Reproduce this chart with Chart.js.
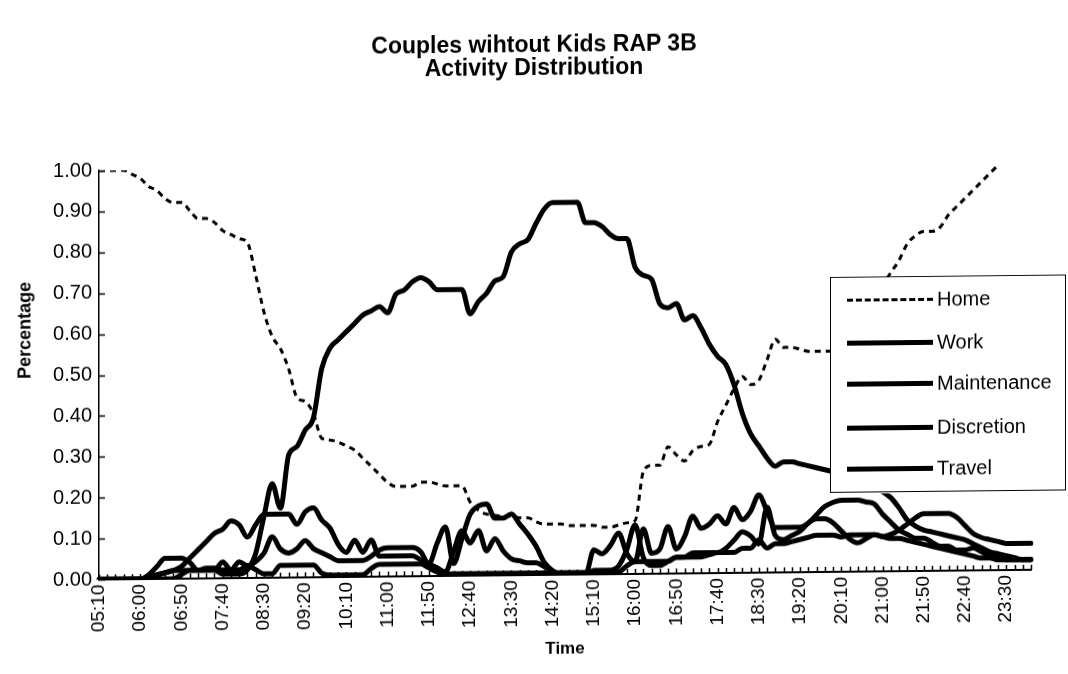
<!DOCTYPE html>
<html>
<head>
<meta charset="utf-8">
<script src="https://cdn.jsdelivr.net/npm/chart.js@4.4.1/dist/chart.umd.min.js"></script>
<style>
  html, body { margin: 0; padding: 0; background: #fff; overflow: hidden; }
  /* the scanned original is slightly skewed, right side higher */
  #wrap {
    position: relative; width: 1068px; height: 674px;
    font-family: "Liberation Sans", Arial, sans-serif; color: #000;
    transform: skewY(-0.6deg); transform-origin: 534px 337px;
  }
  #title {
    position: absolute; left: 0; top: 33px; width: 1068px; text-align: center;
    font-size: 23px; font-weight: bold; line-height: 23px;
  }
  #ytitle {
    position: absolute; left: 25px; top: 325px; font-size: 18px; font-weight: bold;
    transform: translate(-50%, -50%) rotate(-90deg); white-space: nowrap;
  }
  #legend {
    position: absolute; left: 830px; top: 280px; width: 236px; height: 216px;
    background: #fff; border: 1.5px solid #000; box-sizing: border-box;
  }
  .item { position: absolute; left: 16px; height: 24px; display: flex; align-items: center; font-size: 20px; }
  .sample { width: 86px; margin-right: 4px; border-top: 5px solid #000; }
  .sample.dash { border-top: 3px dashed #000; }
</style>
</head>
<body>
<div id="wrap">
  <canvas id="chart" width="1068" height="674"></canvas>
  <div id="title">Couples wihtout Kids RAP 3B<br>Activity Distribution</div>
  <div id="ytitle">Percentage</div>
  <div id="legend"></div>
</div>
<script>
// 10-minute slots from 05:10 to 24:00
const times = [
  '05:10','05:20','05:30','05:40','05:50','06:00','06:10','06:20','06:30','06:40',
  '06:50','07:00','07:10','07:20','07:30','07:40','07:50','08:00','08:10','08:20',
  '08:30','08:40','08:50','09:00','09:10','09:20','09:30','09:40','09:50','10:00',
  '10:10','10:20','10:30','10:40','10:50','11:00','11:10','11:20','11:30','11:40',
  '11:50','12:00','12:10','12:20','12:30','12:40','12:50','13:00','13:10','13:20',
  '13:30','13:40','13:50','14:00','14:10','14:20','14:30','14:40','14:50','15:00',
  '15:10','15:20','15:30','15:40','15:50','16:00','16:10','16:20','16:30','16:40',
  '16:50','17:00','17:10','17:20','17:30','17:40','17:50','18:00','18:10','18:20',
  '18:30','18:40','18:50','19:00','19:10','19:20','19:30','19:40','19:50','20:00',
  '20:10','20:20','20:30','20:40','20:50','21:00','21:10','21:20','21:30','21:40',
  '21:50','22:00','22:10','22:20','22:30','22:40','22:50','23:00','23:10','23:20',
  '23:30','23:40','23:50','24:00'
];

const home = [
  1.00,1.00,1.00,1.00,0.99,0.98,0.96,0.95,0.93,0.92,
  0.92,0.90,0.88,0.88,0.87,0.85,0.84,0.83,0.82,0.74,
  0.65,0.59,0.56,0.51,0.44,0.43,0.40,0.34,0.335,0.33,
  0.32,0.31,0.29,0.27,0.25,0.23,0.22,0.22,0.22,0.23,
  0.23,0.225,0.22,0.22,0.22,0.18,0.16,0.15,0.147,0.145,
  0.145,0.14,0.14,0.13,0.124,0.124,0.124,0.12,0.12,0.12,
  0.12,0.115,0.115,0.12,0.125,0.13,0.25,0.265,0.265,0.31,
  0.29,0.275,0.30,0.31,0.315,0.37,0.41,0.45,0.48,0.46,
  0.47,0.52,0.57,0.55,0.55,0.545,0.54,0.54,0.54,0.54,
  0.55,0.57,0.60,0.63,0.67,0.70,0.73,0.76,0.80,0.82,
  0.83,0.83,0.84,0.87,0.89,0.91,0.93,0.95,0.97,0.99,
  null,null,null,null
];

const work = [
  0,0,0,0,0,0,0,0,0,0,
  0.01,0.02,0.02,0.02,0.02,0.01,0.01,0.01,0.02,0.06,
  0.15,0.23,0.17,0.30,0.32,0.36,0.39,0.51,0.56,0.58,
  0.60,0.62,0.64,0.65,0.66,0.645,0.69,0.70,0.72,0.73,
  0.72,0.70,0.70,0.70,0.70,0.64,0.67,0.69,0.72,0.73,
  0.79,0.81,0.82,0.86,0.895,0.91,0.91,0.91,0.91,0.86,
  0.86,0.85,0.83,0.82,0.82,0.75,0.73,0.72,0.66,0.65,
  0.66,0.62,0.63,0.60,0.56,0.53,0.51,0.46,0.39,0.34,
  0.31,0.28,0.26,0.27,0.27,0.265,0.26,0.255,0.25,0.245,
  0.24,0.235,0.23,0.22,0.21,0.195,0.18,0.155,0.125,0.11,
  0.10,0.095,0.09,0.085,0.08,0.075,0.065,0.055,0.045,0.04,
  0.035,0.03,0.025,0.025
];

const maintenance = [
  0,0,0,0,0,0,0.005,0.01,0.015,0.02,
  0.03,0.05,0.07,0.09,0.11,0.12,0.14,0.13,0.10,0.13,
  0.155,0.155,0.155,0.155,0.13,0.16,0.17,0.14,0.12,0.08,
  0.06,0.09,0.06,0.09,0.05,0.05,0.05,0.05,0.05,0.04,
  0.03,0.02,0.01,0.06,0.11,0.08,0.11,0.06,0.09,0.06,
  0.04,0.035,0.03,0.03,0.02,0.01,0,0,0,0,
  0.01,0.01,0.01,0.02,0.06,0.12,0.04,0.02,0.02,0.03,
  0.04,0.04,0.05,0.05,0.05,0.05,0.06,0.08,0.10,0.09,
  0.07,0.16,0.09,0.08,0.09,0.10,0.12,0.13,0.13,0.12,
  0.10,0.08,0.07,0.08,0.09,0.085,0.09,0.10,0.115,0.13,
  0.14,0.14,0.14,0.14,0.13,0.11,0.09,0.08,0.075,0.07,
  0.065,0.065,0.065,0.065
];

const discretion = [
  0,0,0,0,0,0,0.01,0.03,0.05,0.05,
  0.05,0.04,0.02,0.02,0.02,0.04,0.02,0.04,0.03,0.04,
  0.06,0.10,0.07,0.06,0.07,0.09,0.07,0.06,0.05,0.04,
  0.04,0.04,0.04,0.05,0.065,0.07,0.07,0.07,0.07,0.06,
  0.03,0.08,0.12,0.03,0.09,0.15,0.17,0.175,0.14,0.14,
  0.15,0.125,0.10,0.07,0.03,0.01,0,0,0,0,
  0.06,0.05,0.07,0.10,0.05,0.03,0.11,0.05,0.06,0.115,
  0.06,0.09,0.14,0.11,0.12,0.14,0.12,0.16,0.13,0.15,
  0.19,0.15,0.11,0.11,0.11,0.11,0.12,0.14,0.16,0.17,
  0.175,0.175,0.175,0.17,0.165,0.14,0.12,0.10,0.09,0.08,
  0.08,0.07,0.06,0.06,0.05,0.05,0.055,0.045,0.035,0.03,
  0.025,0.025,0.025,0.025
];

const travel = [
  0,0,0,0,0,0,0.005,0.01,0.015,0.02,
  0.02,0.02,0.02,0.025,0.025,0.02,0.02,0.02,0.03,0.02,
  0.01,0.01,0.03,0.03,0.03,0.03,0.03,0.01,0.005,0.005,
  0.005,0.005,0.005,0.02,0.03,0.03,0.03,0.03,0.03,0.03,
  0.02,0.01,0.005,0.005,0.005,0.005,0.005,0.005,0.005,0.005,
  0.005,0.005,0.005,0.005,0.005,0.005,0.005,0.005,0.005,0.005,
  0.005,0.005,0.005,0.005,0.02,0.03,0.03,0.03,0.03,0.03,
  0.04,0.04,0.04,0.04,0.045,0.05,0.05,0.05,0.06,0.06,
  0.08,0.06,0.07,0.07,0.075,0.08,0.085,0.09,0.09,0.09,
  0.085,0.09,0.09,0.09,0.09,0.085,0.08,0.08,0.075,0.07,
  0.065,0.06,0.055,0.05,0.045,0.04,0.035,0.03,0.03,0.025,
  0.025,0.025,0.025,0.025
];

const seriesNames = ['Home', 'Work', 'Maintenance', 'Discretion', 'Travel'];
const yTicks = [0, 0.1, 0.2, 0.3, 0.4, 0.5, 0.6, 0.7, 0.8, 0.9, 1.0];

const FONT = '"Liberation Sans", Arial, sans-serif';

// Excel-style inward tick marks on both axes
const innerTicks = {
  id: 'innerTicks',
  beforeDatasetsDraw(chart) {
    const { ctx, chartArea, scales: { x, y } } = chart;
    ctx.save();
    ctx.strokeStyle = '#000';
    ctx.lineWidth = 1.5;
    ctx.beginPath();
    yTicks.forEach(v => {
      const py = Math.round(y.getPixelForValue(v)) + 0.5;
      ctx.moveTo(chartArea.left, py);
      ctx.lineTo(chartArea.left + 6, py);
    });
    times.forEach((t, i) => {
      const px = Math.round(x.getPixelForValue(i)) + 0.5;
      ctx.moveTo(px, chartArea.bottom);
      ctx.lineTo(px, chartArea.bottom - 5);
    });
    ctx.stroke();
    ctx.restore();
  }
};

const lineStyle = {
  borderColor: '#000',
  backgroundColor: '#000',
  borderWidth: 5,
  pointRadius: 0,
  cubicInterpolationMode: 'monotone',
  borderJoinStyle: 'round',
  borderCapStyle: 'round',
  fill: false
};

const datasets = [
  { ...lineStyle, label: seriesNames[0], data: home, borderWidth: 3, borderDash: [6, 5], borderCapStyle: 'butt' },
  { ...lineStyle, label: seriesNames[1], data: work },
  { ...lineStyle, label: seriesNames[2], data: maintenance },
  { ...lineStyle, label: seriesNames[3], data: discretion },
  { ...lineStyle, label: seriesNames[4], data: travel }
];

new Chart(document.getElementById('chart'), {
  type: 'line',
  data: { labels: times, datasets },
  plugins: [innerTicks],
  options: {
    responsive: false,
    animation: false,
    devicePixelRatio: 1,
    layout: { padding: { left: 0, right: 37, top: 166, bottom: 12 } },
    plugins: {
      legend: { display: false },
      tooltip: { enabled: false },
      title: { display: false }
    },
    scales: {
      x: {
        grid: { display: false, drawTicks: false },
        border: { display: true, color: '#000', width: 2 },
        afterFit: s => { s.height = 87; },
        title: {
          display: true, text: 'Time', color: '#000',
          font: { family: FONT, size: 17, weight: 'bold' }, padding: { top: 0, bottom: 2 }
        },
        ticks: {
          autoSkip: false, maxRotation: 90, minRotation: 90, padding: 5,
          color: '#000', font: { family: FONT, size: 19 },
          callback: (v, i) => (i % 5 === 0 ? times[i] : '')
        }
      },
      y: {
        min: 0, max: 1,
        grid: { display: false, drawTicks: false },
        border: { display: true, color: '#000', width: 1.5 },
        afterFit: s => { s.width = 99; },
        afterBuildTicks: s => { s.ticks = yTicks.map(v => ({ value: v })); },
        ticks: {
          padding: 7, color: '#000', font: { family: FONT, size: 20 },
          callback: v => v.toFixed(2)
        }
      }
    }
  }
});

// legend box drawn over the plot, like the original
const legendEl = document.getElementById('legend');
const rowTops = [10, 53, 94, 138, 179];
seriesNames.forEach((name, i) => {
  const row = document.createElement('div');
  row.className = 'item';
  row.style.top = rowTops[i] + 'px';
  const sample = document.createElement('span');
  sample.className = i === 0 ? 'sample dash' : 'sample';
  const label = document.createElement('span');
  label.textContent = name;
  row.appendChild(sample);
  row.appendChild(label);
  legendEl.appendChild(row);
});
</script>
</body>
</html>
